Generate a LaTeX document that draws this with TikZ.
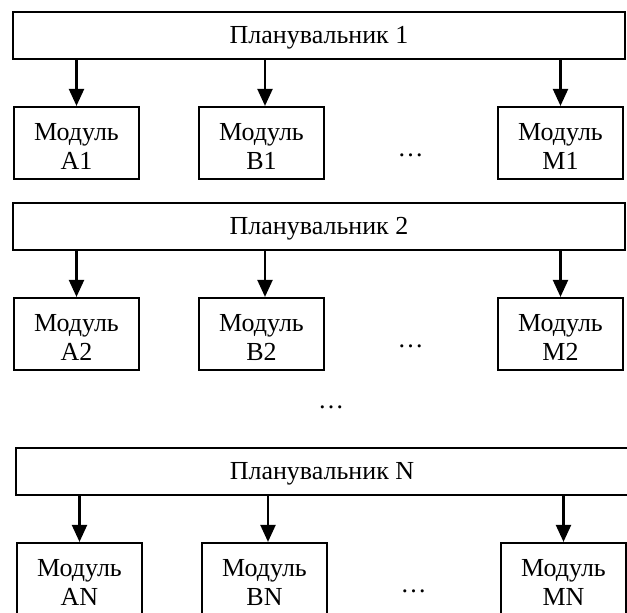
\documentclass[tikz,border=0pt]{standalone}
\usepackage{fontspec}
\setmainfont{Liberation Serif}
\usetikzlibrary{arrows.meta}
\begin{document}
\begin{tikzpicture}[x=0.5pt,y=-0.5pt,
		every node/.style={font=\fontsize{13}{14.5}\selectfont},
		planner/.style={draw,line width=1.1pt,minimum width=306pt,minimum height=23.5pt,inner sep=0pt,text depth=0.8pt},
		module/.style={draw,line width=1.1pt,minimum width=62.5pt,minimum height=36pt,inner sep=0pt,align=center,text height=26.6pt},
		link/.style={-{Triangle[length=8.5pt,width=7.5pt]},line width=1.1pt}]
	\clip (0,0) rectangle (627,612);
	% one row: planner and its modules
	\foreach \r/\dx/\dy in {1/0/0,2/0/191,N/3/436}{
		\node[planner] (p\r) at (319+\dx,35.5+\dy) {Планувальник \r};
		\node[module] (a\r) at (76.5+\dx,143+\dy) {Модуль\\A\r};
		\node[module] (b\r) at (261.5+\dx,143+\dy) {Модуль\\B\r};
		\node[module] (m\r) at (560.5+\dx,143+\dy) {Модуль\\M\r};
		\node (d\r) at (410.5+\dx,155+\dy) {…};
		\coordinate (bt\r) at ([xshift=1.75pt]b\r.north);
		\draw[link] (p\r.south -| a\r.north) -- (a\r.north);
		\draw[link] (p\r.south -| bt\r) -- (bt\r);
		\draw[link] (p\r.south -| m\r.north) -- (m\r.north);
	}
	\node (rows) at (331,407) {…};
\end{tikzpicture}
\end{document}
